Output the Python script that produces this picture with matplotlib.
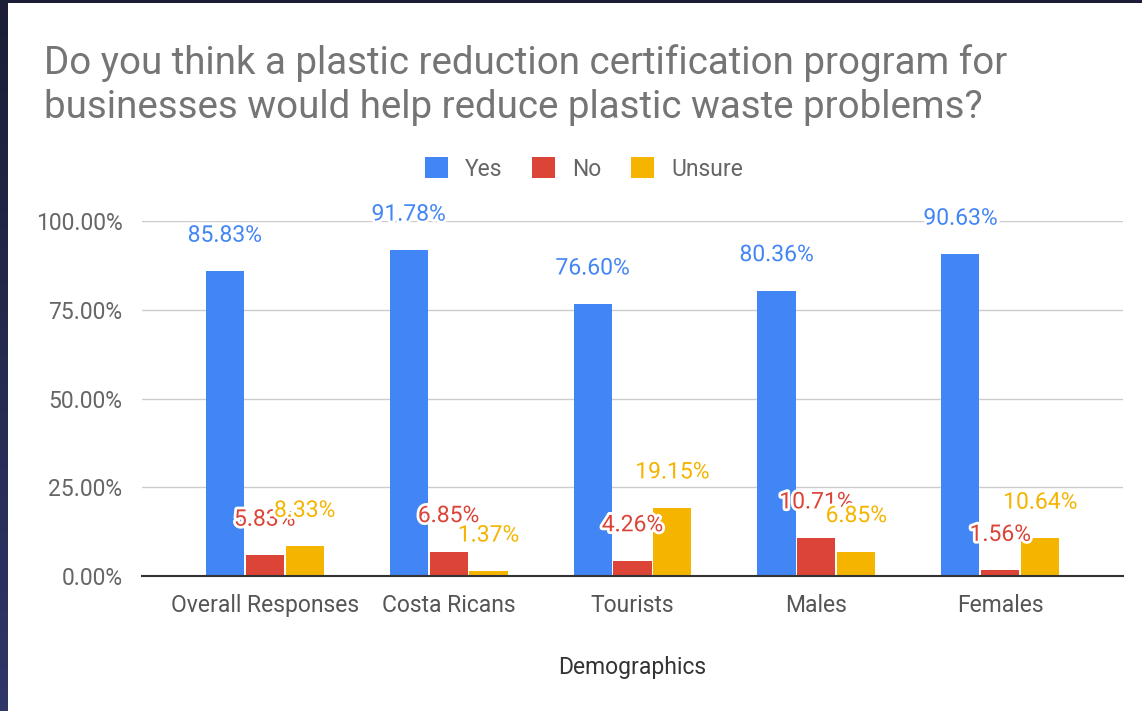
import matplotlib.pyplot as plt
import matplotlib.patheffects as pe
from matplotlib.patches import Patch
import numpy as np

plt.rcParams['font.family'] = ['Roboto', 'DejaVu Sans']

categories = ["Overall Responses", "Costa Ricans", "Tourists", "Males", "Females"]
yes = [85.83, 91.78, 76.60, 80.36, 90.63]
no = [5.83, 6.85, 4.26, 10.71, 1.56]
unsure = [8.33, 1.37, 19.15, 6.85, 10.64]
series = ["Yes", "No", "Unsure"]
colors = ["#4285F4", "#DB4437", "#F4B400"]

fig = plt.figure(figsize=(11.42, 7.11), dpi=100)
fig.patch.set_facecolor("white")

# dark frame on left / top (screenshot border)
grad = fig.add_axes([0, 0, 8 / 1142, 1])
grad.imshow(np.linspace(0, 1, 100).reshape(-1, 1), aspect="auto",
            cmap=plt.matplotlib.colors.LinearSegmentedColormap.from_list("b", ["#1b1e36", "#2f3668"]))
grad.axis("off")
top = fig.add_axes([0, 1 - 3 / 711, 1, 3 / 711])
top.axis("off")
top.add_patch(plt.Rectangle((0, 0), 1, 1, color="#1b1e36", transform=top.transAxes))

ax = fig.add_axes([142 / 1142, 1 - 576 / 711, (1123 - 142) / 1142, (576 - 221) / 711])

fs = 16.5
x = np.arange(len(categories))
w = 0.207
step = 0.217
for i, (vals, c) in enumerate(zip([yes, no, unsure], colors)):
    pos = x + (i - 1) * step
    ax.bar(pos, vals, width=w, color=c, zorder=3)
    for p, v in zip(pos, vals):
        ax.annotate(f"{v:.2f}%", (p, v), xytext=(0, 26), textcoords="offset points",
                    ha="center", va="center", fontsize=fs, color=c, zorder=5,
                    annotation_clip=False,
                    path_effects=[pe.withStroke(linewidth=4, foreground="white")])

ax.set_xlim(-0.667, 4.667)
ax.set_ylim(0, 100)
ax.set_yticks([0, 25, 50, 75, 100])
ax.set_yticklabels(["0.00%", "25.00%", "50.00%", "75.00%", "100.00%"])
ax.set_xticks(x)
ax.set_xticklabels(categories)
ax.tick_params(axis="y", length=0, pad=14, labelsize=fs, labelcolor="#666666")
ax.tick_params(axis="x", length=0, pad=13, labelsize=fs, labelcolor="#555555")
ax.grid(axis="y", color="#cccccc", linewidth=1, zorder=0)
for s in ["top", "right", "left"]:
    ax.spines[s].set_visible(False)
ax.spines["bottom"].set_color("#333333")
ax.spines["bottom"].set_linewidth(1.5)
ax.spines["bottom"].set_zorder(4)
ax.set_xlabel("Demographics", fontsize=fs, color="#333333", labelpad=28)

fig.text(44 / 1142, 1 - 85 / 711,
         "Do you think a plastic reduction certification program for\nbusinesses would help reduce plastic waste problems?",
         fontsize=27.7, color="#757575", ha="left", va="center", linespacing=1.25)

handles = [Patch(facecolor=c, label=s) for s, c in zip(series, colors)]
fig.legend(handles=handles, loc="center", bbox_to_anchor=(584 / 1142, 1 - 169 / 711),
           ncol=3, frameon=False, fontsize=fs, handlelength=1.0, handleheight=1.0,
           handletextpad=0.75, columnspacing=1.3, labelcolor="#666666")

fig.savefig("out.png", dpi=100)
